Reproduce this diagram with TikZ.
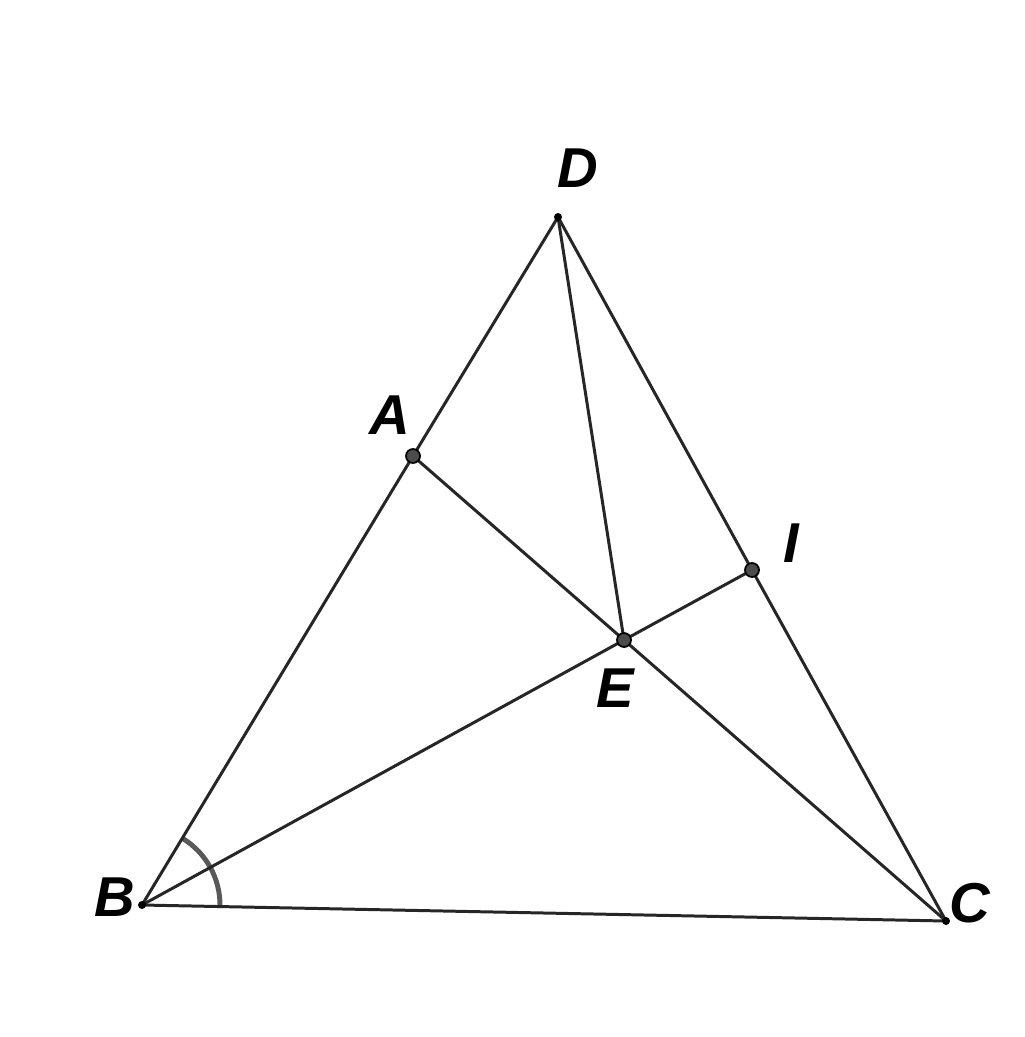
\documentclass[tikz,border=0pt]{standalone}
\usepackage{fontspec}
\setmainfont{Liberation Sans}
\usepackage{tikz}
\usetikzlibrary{calc}
\tikzstyle{seg} = [line width=0.85pt, black!85]
\tikzstyle{pt} = [circle, fill=black!70, draw=black, line width=0.5pt, inner sep=0pt, minimum size=0.14cm]
\tikzstyle{vtx} = [circle, fill=black, inner sep=0pt, minimum size=0.08cm]
\tikzstyle{lbl} = [font=\fontsize{16}{19}\selectfont\bfseries\itshape, inner sep=0pt]

\begin{document}
\begin{tikzpicture}
    \useasboundingbox (0,0) rectangle (10.24,-10.37);
    % points
    \coordinate (D) at (5.58,-2.17);
    \coordinate (A) at (4.13,-4.56);
    \coordinate (I) at (7.52,-5.70);
    \coordinate (E) at (6.24,-6.40);
    \coordinate (B) at (1.42,-9.05);
    \coordinate (C) at (9.46,-9.21);

    % angle at B
    \draw[black!65, line width=1.4pt] ($(B)+(-1.1:0.78)$) arc[start angle=-1.1, end angle=58.9, radius=0.78];

    % sides
    \draw[seg] (D) -- (A) -- (B) -- (C) -- (I) -- (D);
    \draw[seg] (A) -- (E) -- (C);
    \draw[seg] (B) -- (E) -- (I);
    \draw[seg] (D) -- (E);

    \node[vtx] (d) at (D) {};
    \node[vtx] (b) at (B) {};
    \node[vtx] (c) at (C) {};
    \node[pt] (a) at (A) {};
    \node[pt] (e) at (E) {};
    \node[pt] (i) at (I) {};

    % labels
    \node[lbl] at (5.78,-1.68) {D};
    \node[lbl] at (3.90,-4.15) {A};
    \node[lbl] at (7.91,-5.43) {I};
    \node[lbl] at (6.15,-6.88) {E};
    \node[lbl] at (1.15,-8.97) {B};
    \node[lbl] at (9.70,-9.03) {C};
\end{tikzpicture}
\end{document}
